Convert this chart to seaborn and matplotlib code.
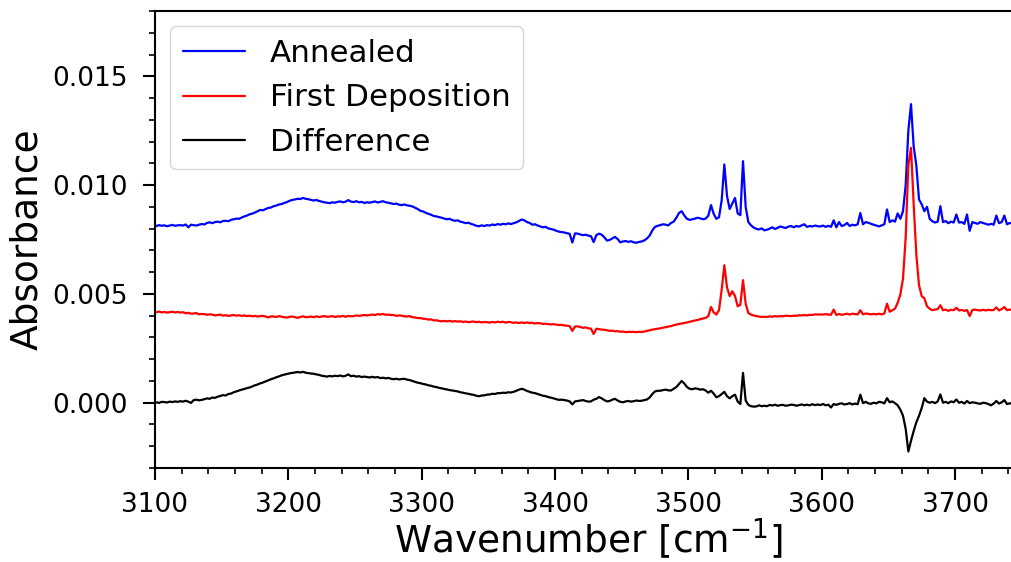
import numpy as np
import pandas as pd
import matplotlib
matplotlib.use("Agg")
import matplotlib.pyplot as plt
from matplotlib.ticker import MultipleLocator
import seaborn as sns

# Wavenumber grid (cm^-1), 2 cm^-1 spacing
wavenumber = np.arange(3099, 3744, 2)

# Absorbance values in units of 1e-5, one row per 20 cm^-1
annealed = [
    814, 812, 816, 813, 815, 811, 814, 817, 813, 815,
    816, 814, 819, 806, 818, 816, 814, 818, 821, 819,
    826, 829, 825, 830, 832, 829, 835, 836, 834, 840,
    843, 846, 845, 851, 856, 860, 866, 869, 874, 880,
    886, 884, 890, 895, 897, 903, 906, 911, 913, 918,
    922, 928, 932, 934, 937, 936, 941, 937, 935, 932,
    929, 932, 927, 924, 921, 919, 917, 921, 919, 923,
    925, 921, 924, 931, 924, 922, 926, 921, 923, 918,
    921, 919, 922, 925, 920, 923, 926, 921, 919, 916,
    913, 915, 910, 908, 911, 907, 905, 902, 896, 890,
    882, 879, 873, 868, 864, 858, 856, 853, 850, 846,
    843, 845, 839, 836, 838, 832, 829, 825, 827, 822,
    818, 813, 811, 815, 812, 816, 814, 819, 816, 821,
    818, 822, 820, 824, 821, 825, 829, 835, 842, 838,
    830, 826, 818, 820, 814, 810, 806, 808, 801, 798,
    795, 790, 786, 784, 782, 779, 776, 736, 778, 777,
    773, 770, 772, 768, 765, 738, 770, 777, 772, 760,
    745, 748, 755, 762, 752, 737, 741, 743, 739, 742,
    737, 735, 739, 741, 746, 755, 768, 792, 808, 813,
    816, 820, 818, 815, 826, 832, 850, 872, 880, 860,
    845, 840, 843, 846, 850, 847, 843, 846, 860, 908,
    868, 845, 852, 930, 1095, 950, 890, 915, 941, 870,
    862, 1110, 900, 830, 815, 805, 799, 796, 801, 792,
    795, 800, 806, 798, 804, 810, 806, 803, 809, 812,
    806, 812, 809, 815, 820, 808, 812, 810, 814, 811,
    810, 814, 808, 813, 808, 838, 806, 830, 812, 816,
    826, 812, 818, 815, 820, 872, 820, 830, 827, 822,
    818, 814, 810, 815, 820, 888, 830, 838, 832, 870,
    845, 880, 1000, 1250, 1372, 1178, 1090, 934, 912, 880,
    900, 845, 834, 828, 832, 903, 830, 835, 825, 832,
    828, 865, 828, 830, 822, 865, 790, 830, 826, 822,
    830, 826, 822, 818, 822, 818, 860, 825, 830, 860,
    820, 826, 824,
]
first_deposition = [
    418, 416, 419, 415, 417, 414, 416, 418, 415, 417,
    414, 416, 411, 413, 409, 410, 412, 406, 408, 407,
    404, 406, 405, 401, 403, 405, 400, 402, 399, 401,
    403, 400, 402, 399, 401, 398, 400, 397, 399, 396,
    398, 399, 396, 392, 397, 396, 394, 398, 395, 393,
    391, 395, 396, 393, 390, 394, 397, 393, 394, 396,
    393, 397, 394, 396, 398, 395, 396, 398, 394, 397,
    396, 399, 395, 399, 397, 398, 401, 399, 401, 403,
    401, 403, 405, 403, 407, 405, 408, 404, 405, 403,
    403, 399, 401, 400, 397, 396, 398, 393, 392, 389,
    389, 386, 385, 382, 383, 378, 379, 376, 374, 376,
    374, 376, 373, 375, 373, 374, 371, 373, 370, 372,
    373, 370, 372, 369, 371, 370, 368, 371, 369, 372,
    370, 372, 368, 371, 370, 367, 369, 366, 369, 366,
    369, 366, 367, 364, 366, 365, 362, 363, 361, 360,
    361, 359, 357, 358, 355, 354, 352, 330, 350, 351,
    348, 344, 346, 342, 340, 316, 340, 338, 336, 335,
    333, 330, 331, 328, 329, 326, 327, 324, 326, 325,
    326, 324, 326, 325, 327, 330, 333, 336, 338, 340,
    342, 345, 347, 350, 352, 356, 359, 362, 364, 366,
    369, 372, 375, 378, 380, 384, 387, 390, 398, 440,
    415, 405, 425, 520, 632, 530, 490, 512, 490, 443,
    450, 563, 455, 412, 405, 401, 398, 396, 394, 395,
    394, 397, 395, 398, 396, 398, 397, 400, 399, 398,
    400, 399, 402, 401, 403, 401, 404, 403, 406, 405,
    406, 405, 407, 405, 404, 428, 403, 408, 404, 406,
    409, 405, 409, 407, 406, 425, 406, 410, 408, 406,
    408, 406, 409, 406, 410, 455, 418, 425, 432, 459,
    497, 570, 760, 1090, 1171, 910, 680, 540, 490, 480,
    443, 432, 425, 428, 430, 448, 425, 428, 422, 427,
    425, 436, 424, 426, 422, 426, 398, 426, 428, 425,
    424, 427, 424, 427, 425, 426, 438, 424, 430, 440,
    425, 428, 427,
]
difference = [
    0, 2, -1, 4, 3, 1, 5, 3, 6, 4,
    7, 5, 9, 5, -1, 12, 14, 11, 13, 16,
    20, 18, 24, 22, 28, 31, 35, 33, 40, 42,
    48, 52, 56, 60, 63, 67, 70, 75, 80, 84,
    89, 93, 98, 103, 108, 112, 117, 121, 126, 129,
    132, 135, 137, 139, 141, 139, 142, 138, 136, 134,
    133, 130, 128, 124, 122, 120, 123, 121, 124, 122,
    125, 121, 124, 130, 122, 124, 120, 122, 118, 120,
    118, 116, 119, 116, 118, 113, 115, 112, 114, 110,
    108, 110, 107, 109, 110, 106, 104, 100, 96, 92,
    90, 86, 84, 80, 78, 74, 72, 68, 66, 63,
    61, 58, 56, 54, 52, 48, 46, 43, 41, 38,
    36, 32, 30, 33, 34, 37, 38, 41, 40, 44,
    44, 46, 45, 48, 47, 50, 55, 60, 64, 60,
    54, 50, 46, 44, 40, 36, 32, 30, 26, 23,
    20, 16, 13, 14, 12, 10, 6, -8, 6, 8,
    10, 12, 8, 5, 6, 14, 18, 26, 20, 12,
    6, 8, 14, 18, 10, 4, 2, 6, 8, 5,
    7, 10, 8, 9, 12, 15, 24, 40, 52, 55,
    55, 58, 60, 57, 56, 64, 72, 86, 100, 88,
    72, 64, 62, 66, 64, 60, 62, 56, 46, 55,
    42, 25, 30, 40, 50, 30, 20, 30, 37, 5,
    -6, 137, 10, -10, -16, -18, -17, -12, -16, -14,
    -16, -10, -13, -9, -14, -11, -10, -14, -12, -9,
    -10, -14, -11, -8, -12, -9, -12, -7, -11, -8,
    -11, -6, -12, -9, -22, -6, -10, -5, -3, -8,
    -6, -2, -8, -4, -7, 37, -2, 4, -3, -5,
    0, -3, 4, 2, -3, 21, 2, 6, -2, -12,
    -32, -60, -120, -224, -175, -130, -90, -60, -25, 21,
    5, 0, 4, -2, 6, 38, 0, 4, -2, 6,
    2, 15, 0, 4, -4, 8, -2, 2, 0, -3,
    -5, 0, -2, -6, -12, -4, 8, -4, 2, 12,
    -6, -3, -2,
]

labels = ["Annealed", "First Deposition", "Difference"]
colors = ["blue", "red", "black"]

df = pd.DataFrame({
    "wn": wavenumber,
    labels[0]: np.array(annealed) * 1e-5,
    labels[1]: np.array(first_deposition) * 1e-5,
    labels[2]: np.array(difference) * 1e-5,
})
long_df = df.melt(id_vars="wn", var_name="spectrum", value_name="absorbance")

sns.set_style("ticks")
plt.rcParams.update({
    "font.family": ["DejaVu Sans"],
    "text.color": "black",
    "axes.labelcolor": "black",
    "xtick.color": "black",
    "ytick.color": "black",
    "axes.edgecolor": "black",
})

fig = plt.figure(figsize=(10.12, 5.62), dpi=100)
ax = fig.add_axes([155 / 1012, 94 / 562, 0.8564, 457 / 562])

sns.lineplot(data=long_df, x="wn", y="absorbance", hue="spectrum",
             hue_order=labels, palette=colors, linewidth=1.6,
             estimator=None, sort=False, ax=ax)

ax.set_xlim(3100, 3750)
ax.set_ylim(-0.003, 0.018)
ax.xaxis.set_major_locator(MultipleLocator(100))
ax.xaxis.set_minor_locator(MultipleLocator(20))
ax.yaxis.set_major_locator(MultipleLocator(0.005))
ax.yaxis.set_minor_locator(MultipleLocator(0.001))
ax.tick_params(which="major", length=8.5, width=1.5, labelsize=19)
ax.tick_params(which="minor", length=4.5, width=1.2)
ax.tick_params(axis="y", which="major", pad=11)
ax.tick_params(axis="x", which="major", pad=8.5)
for s in ax.spines.values():
    s.set_linewidth(1.5)

ax.set_xlabel("Wavenumber [cm$^{-1}$]", fontsize=27, labelpad=-0.5)
ax.set_ylabel("Absorbance", fontsize=27, labelpad=5)

handles, _ = ax.get_legend_handles_labels()
ax.legend(handles=handles, labels=labels, loc="upper left", fontsize=22.3)

fig.savefig("out.png", dpi=100)
